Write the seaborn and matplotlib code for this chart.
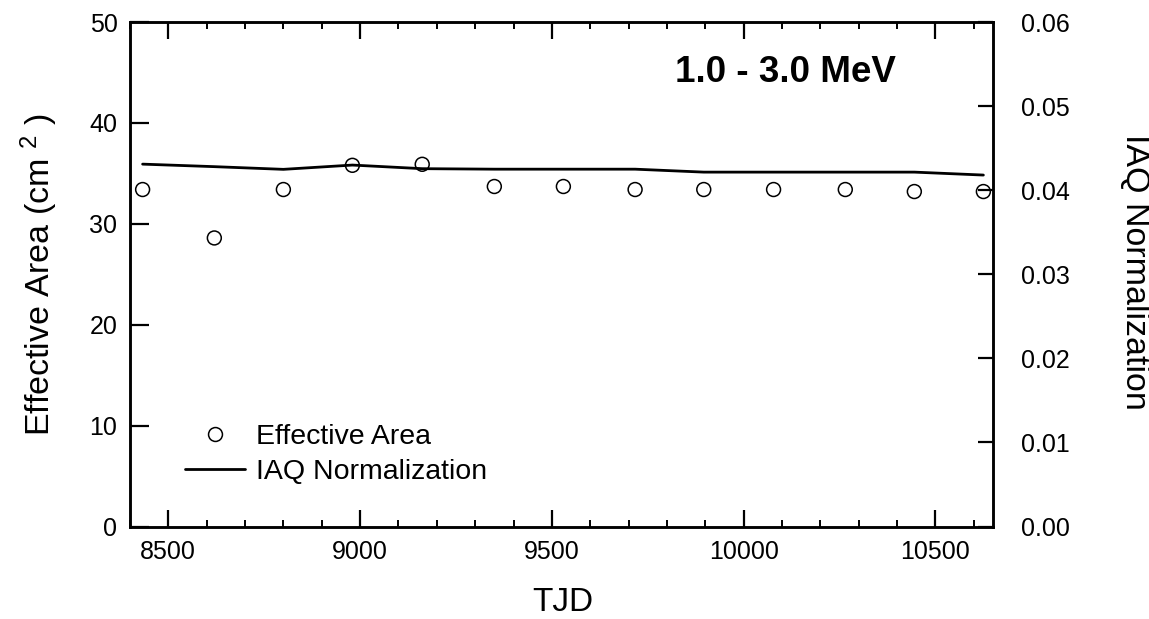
import numpy as np
import pandas as pd
import seaborn as sns
import matplotlib.pyplot as plt
from matplotlib.ticker import MultipleLocator, FormatStrFormatter
from matplotlib.lines import Line2D

tjd = [8433, 8620, 8800, 8980, 9162, 9350, 9530, 9717, 9896, 10078, 10265, 10445, 10625]
eff_area = [33.4, 28.6, 33.4, 35.8, 35.9, 33.7, 33.7, 33.4, 33.4, 33.4, 33.4, 33.2, 33.2]
iaq_norm = [0.0431, 0.0428, 0.04248, 0.04299, 0.04256, 0.0425, 0.0425, 0.0425,
            0.04215, 0.04215, 0.04215, 0.04215, 0.0418]

df = pd.DataFrame({'TJD': tjd, 'area': eff_area, 'iaq': iaq_norm})

sns.set_style('ticks')
plt.rcParams['font.family'] = ['Liberation Sans', 'DejaVu Sans']
plt.rcParams['mathtext.default'] = 'regular'
plt.rcParams['text.color'] = 'black'
plt.rcParams['xtick.color'] = 'black'
plt.rcParams['ytick.color'] = 'black'
plt.rcParams['xtick.labelcolor'] = 'black'
plt.rcParams['ytick.labelcolor'] = 'black'

fig = plt.figure(figsize=(11.49, 6.19), dpi=100)
ax = fig.add_axes([0.1131, 0.1494, 0.7511, 0.815])
ax2 = ax.twinx()

sns.scatterplot(data=df, x='TJD', y='area', ax=ax, marker='o', s=100,
                facecolor='none', edgecolor='black', linewidth=1.1, zorder=3)
sns.lineplot(data=df, x='TJD', y='iaq', ax=ax2, color='black', linewidth=2.0)

ax.set_xlim(8400, 10650)
ax.set_ylim(0, 50)
ax2.set_ylim(0, 0.06)

ax.xaxis.set_major_locator(MultipleLocator(500))
ax.xaxis.set_minor_locator(MultipleLocator(100))
ax.yaxis.set_major_locator(MultipleLocator(10))
ax2.yaxis.set_major_locator(MultipleLocator(0.01))
ax2.yaxis.set_major_formatter(FormatStrFormatter('%.2f'))

for a in (ax, ax2):
    for s in a.spines.values():
        s.set_linewidth(1.8)
        s.set_color('black')

ax.tick_params(axis='x', which='major', direction='in', length=12.5, width=1.6,
               top=True, labelsize=18, pad=10)
ax.tick_params(axis='x', which='minor', direction='in', length=5, width=1.4, top=True)
ax.tick_params(axis='y', which='major', direction='in', length=13.5, width=1.6,
               right=False, labelsize=18, pad=9)
ax2.tick_params(axis='y', which='major', direction='in', length=11, width=1.6,
                labelsize=18, pad=20)

ax.set_xlabel('')
ax.set_ylabel('')
ax2.set_ylabel('')

fig.text(0.490, 0.026, 'TJD', fontsize=24, ha='center', va='center')
fig.text(0.034, 0.556, r'Effective Area (cm $^{2}$ )', fontsize=24.5, rotation=90,
         ha='center', va='center')
fig.text(0.987, 0.56, 'IAQ Normalization', fontsize=24.5, rotation=-90,
         ha='center', va='center')

ax.text(0.76, 0.90, '1.0 - 3.0 MeV', transform=ax.transAxes, fontsize=26.5,
        fontweight='bold', ha='center', va='center')

handles = [Line2D([], [], marker='o', linestyle='none', markersize=10,
                  markerfacecolor='none', markeredgecolor='black', markeredgewidth=1.1),
           Line2D([], [], color='black', linewidth=2.0)]
ax2.legend(handles, ['Effective Area', 'IAQ Normalization'], loc='lower left',
           bbox_to_anchor=(0.064, 0.082), frameon=False, fontsize=20.5,
           handlelength=2.1, handletextpad=0.4, labelspacing=0.33,
           borderpad=0, borderaxespad=0)

fig.savefig('out.png', dpi=100)
